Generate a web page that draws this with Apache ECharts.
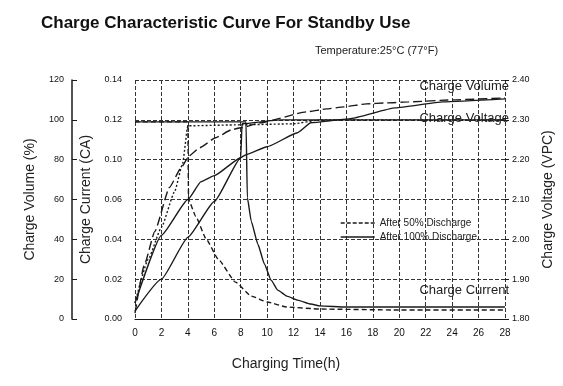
<!DOCTYPE html>
<html>
<head>
<meta charset="utf-8">
<script src="https://cdn.jsdelivr.net/npm/echarts@6/dist/echarts.min.js"></script>
<style>
html,body{margin:0;padding:0;background:#fff;}
#c{width:563px;height:386px;}
</style>
</head>
<body>
<div id="c"></div>
<script>
// ---- data ----
const TITLE = 'Charge Characteristic Curve For Standby Use';
const TEMP_NOTE = 'Temperature:25\u00B0C (77\u00B0F)';
const CURRENT_TICKS = ['0.00', '0.02', '0.04', '0.06', '0.10', '0.12', '0.14'];
const LEGEND_NAMES = ['After 50% Discharge', 'After 100% Discharge'];
const CURVE_LABELS = ['Charge Volume', 'Charge Voltage', 'Charge Current'];

// Charge volume (%)
const VOL50_T = [0, 0.7, 1.5, 2.6, 3.5, 4.1, 4.9, 6.1, 7.3, 8.0, 9.5, 13.0, 14.5, 15.8, 17.5, 19.0, 20.7, 24, 28];
const VOL50_V = [3, 27, 44, 66, 76, 82, 86, 91, 95, 96, 98.5, 104, 105.5, 106.5, 108, 108.5, 109, 110, 111];
const VOL100_T = [0, 2, 4, 6, 8, 8.4, 10, 12.3, 13.3, 16.2, 19.7, 23.3, 28];
const VOL100_V = [4, 20, 41, 59, 81, 82.5, 86.5, 93.5, 98.5, 100.5, 106, 109, 110.5];

// Charge voltage (V per cell)
const VOLT50_T = [0, 1, 2, 3, 3.6, 4, 8, 12, 14, 28];
const VOLT50_V = [1.84, 1.95, 2.03, 2.12, 2.19, 2.285, 2.2875, 2.29, 2.30, 2.30];
const VOLT100_T = [0, 2, 4, 5, 6, 8, 8.1, 11, 28];
const VOLT100_V = [1.84, 2.01, 2.10, 2.145, 2.16, 2.205, 2.29, 2.30, 2.30];

// Charge current (CA, on the drawn current scale)
const CUR50_T = [0, 4, 4.05, 4.6, 5.4, 6.3, 7.6, 8.8, 10, 11.5, 14, 20, 28];
const CUR50_V = [0.099, 0.099, 0.060, 0.0515, 0.040, 0.030, 0.0185, 0.0115, 0.0085, 0.006, 0.005, 0.0045, 0.0045];
const CUR100_T = [0, 8.4, 8.5, 8.8, 9.3, 9.8, 10.3, 10.8, 11.5, 12.3, 13.3, 14, 16, 20, 28];
const CUR100_V = [0.099, 0.099, 0.061, 0.049, 0.0375, 0.0275, 0.0195, 0.0145, 0.0115, 0.0095, 0.0075, 0.0066, 0.006, 0.006, 0.006];

function pairs(t, v) { return t.map((x, i) => [x, v[i]]); }

const FONT = '"Liberation Sans", Arial, sans-serif';
const INK = '#1a1a1a';
const gridLine = { show: true, lineStyle: { color: '#333', width: 1, type: [4, 2] } };

function curve(name, t, v, yIdx, dash, endText) {
  const s = {
    name: name,
    type: 'line',
    yAxisIndex: yIdx,
    data: pairs(t, v),
    symbol: 'none',
    smooth: 0.15,
    smoothMonotone: 'x',
    lineStyle: { color: INK, width: 1.4, type: dash },
    itemStyle: { color: INK },
    z: 5
  };
  if (endText) {
    s.endLabel = {
      show: true,
      formatter: () => endText.text,
      align: 'right',
      verticalAlign: 'middle',
      offset: endText.offset,
      fontFamily: FONT,
      fontSize: 13,
      color: '#222'
    };
  }
  return s;
}

const chart = echarts.init(document.getElementById('c'), null, { renderer: 'canvas' });
chart.setOption({
  backgroundColor: '#ffffff',
  animation: false,
  textStyle: { fontFamily: FONT },
  title: [
    { text: TITLE, left: 36, top: 10,
      textStyle: { fontFamily: FONT, fontSize: 17, fontWeight: 'bold', color: '#111' } },
    { text: TEMP_NOTE, left: 310, top: 40,
      textStyle: { fontFamily: FONT, fontSize: 11, fontWeight: 'normal', color: '#222' } }
  ],
  legend: {
    orient: 'vertical',
    left: 335,
    top: 213,
    itemWidth: 34,
    itemHeight: 8,
    itemGap: 4,
    itemStyle: { opacity: 0 },
    textStyle: { fontFamily: FONT, fontSize: 10, color: '#222' },
    data: [
      { name: LEGEND_NAMES[0], itemStyle: { opacity: 0 }, lineStyle: { type: [4, 2], width: 1.4, color: INK } },
      { name: LEGEND_NAMES[1], itemStyle: { opacity: 0 }, lineStyle: { type: 'solid', width: 1.4, color: INK } }
    ]
  },
  grid: { left: 135, right: 53, top: 80, bottom: 67 },
  xAxis: {
    type: 'value',
    min: 0, max: 28, interval: 2,
    name: 'Charging Time(h)',
    nameLocation: 'middle',
    nameGap: 38,
    nameTextStyle: { fontFamily: FONT, fontSize: 14, color: '#222', padding: [0, 68, 0, 0] },
    axisLine: { show: true, lineStyle: { color: INK, width: 1.2 } },
    axisTick: { show: false },
    axisLabel: { margin: 9, fontSize: 10, color: '#111' },
    splitLine: gridLine
  },
  yAxis: [
    { // current
      type: 'value',
      position: 'left',
      min: 0, max: 0.12, interval: 0.02,
      name: 'Charge Current (CA)',
      nameLocation: 'middle',
      nameGap: 42,
      nameTextStyle: { fontFamily: FONT, fontSize: 14, color: '#222' },
      axisLine: { show: false },
      axisTick: { show: false },
      axisLabel: { margin: 13, fontSize: 9, color: '#111',
        formatter: v => CURRENT_TICKS[Math.round(v / 0.02)] },
      splitLine: gridLine
    },
    { // volume
      type: 'value',
      position: 'left',
      offset: 63,
      min: 0, max: 120, interval: 20,
      name: 'Charge Volume (%)',
      nameLocation: 'middle',
      nameGap: 35,
      nameTextStyle: { fontFamily: FONT, fontSize: 14, color: '#222' },
      axisLine: { show: true, lineStyle: { color: INK, width: 1.5 } },
      axisTick: { show: true, inside: true, length: 5, lineStyle: { color: INK } },
      axisLabel: { margin: 8, fontSize: 9, color: '#111' },
      splitLine: { show: false }
    },
    { // voltage
      type: 'value',
      position: 'right',
      min: 1.8, max: 2.4, interval: 0.1,
      name: 'Charge Voltage (VPC)',
      nameLocation: 'middle',
      nameGap: 36,
      nameTextStyle: { fontFamily: FONT, fontSize: 14, color: '#222' },
      axisLine: { show: false },
      axisTick: { show: true, length: 4, lineStyle: { color: INK } },
      axisLabel: { margin: 7, fontSize: 9, color: '#111', formatter: v => v.toFixed(2) },
      splitLine: { show: false }
    }
  ],
  series: [
    curve(LEGEND_NAMES[0], VOL50_T, VOL50_V, 1, [9, 4]),
    curve(LEGEND_NAMES[1], VOL100_T, VOL100_V, 1, 'solid', { text: CURVE_LABELS[0], offset: [-4, -12] }),
    curve(LEGEND_NAMES[0], VOLT50_T, VOLT50_V, 2, [2, 2]),
    curve(LEGEND_NAMES[1], VOLT100_T, VOLT100_V, 2, 'solid', { text: CURVE_LABELS[1], offset: [-4, -1] }),
    curve(LEGEND_NAMES[0], CUR50_T, CUR50_V, 0, [5, 3]),
    curve(LEGEND_NAMES[1], CUR100_T, CUR100_V, 0, 'solid', { text: CURVE_LABELS[2], offset: [-4, -17] })
  ]
});
</script>
</body>
</html>
